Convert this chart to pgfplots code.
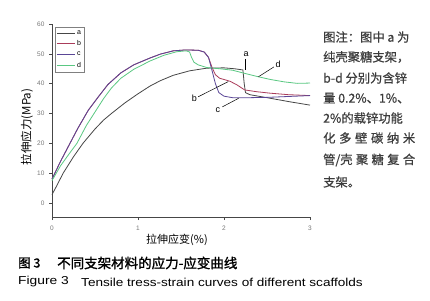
\documentclass[border=0pt]{standalone}
\usepackage{pgfplots}
\pgfplotsset{compat=1.18}
\usepackage{fontspec}
\setmainfont{Liberation Sans}
\newfontfamily\cjk{Noto Sans CJK SC}
\newfontfamily\cjkb[FakeBold=1.5]{Noto Sans CJK SC}
\newfontfamily\cjkn[FakeBold=0.6]{Noto Sans CJK SC}
\definecolor{ca}{RGB}{70,70,70}
\definecolor{cb}{RGB}{170,60,90}
\definecolor{cc}{RGB}{90,70,150}
\definecolor{cd}{RGB}{90,200,130}
\definecolor{tk}{RGB}{120,120,120}
\definecolor{nt}{RGB}{60,60,60}
\begin{document}
\begin{tikzpicture}[x=1pt,y=1pt]
\path[use as bounding box, fill=white] (0,0) rectangle (430,300);
\begin{axis}[
  at={(52pt,83pt)}, anchor=south west, scale only axis,
  width=258pt, height=193pt,
  xmin=0, xmax=3, ymin=-4.7, ymax=60,
  axis x line*=bottom, axis y line*=left,
  axis line style={color=ca, line width=0.7pt},
  xtick={0,1,2,3}, ytick={0,10,20,30,40,50,60},
  tick style={color=ca, line width=0.6pt},
  major tick length=3pt, tick align=outside,
  ticklabel style={color=tk, font=\fontsize{6.5}{7}\selectfont},
  /pgf/number format/assume math mode=true,
  yticklabel style={xshift=-1pt},
  xticklabel style={yshift=-2pt},
  legend style={at={(0.0116,0.984)}, anchor=north west, draw=gray, line width=0.5pt,
    font=\fontsize{7}{7}\selectfont, inner sep=1.2pt, row sep=0.8pt, cells={anchor=west}},
  legend image code/.code={\draw[#1] (0pt,0pt)--(18pt,0pt);},
  every axis plot/.append style={line width=0.8pt},
  clip=false,
]
\addplot[ca] coordinates {
(0,2.8)(0.05,5.5)(0.13,10)(0.25,15.5)(0.36,20)(0.5,24.8)(0.6,27.8)(0.7,30.2)
(0.85,33.6)(1.0,36.6)(1.14,39.2)(1.26,41)(1.41,42.8)(1.6,44.3)(1.8,45.2)(2.0,45.3)
(2.12,45)(2.22,44.6)(2.235,40)(2.25,37)(2.3,36.3)(2.5,35.3)(2.75,34)(3.0,32.8)};
\addlegendentry{a}
\addplot[cb] coordinates {
(0,8)(0.05,11)(0.1,14)(0.2,19.5)(0.3,25)(0.42,31)(0.55,36)(0.65,39.7)(0.8,43.6)
(0.95,46.3)(1.14,48.6)(1.26,49.9)(1.41,51)(1.55,51.3)(1.7,51.2)(1.77,50.6)(1.82,48.8)
(1.86,45.5)(1.9,43)(1.95,41.8)(2.0,41.4)(2.07,40.8)(2.15,39.6)(2.24,37.9)(2.38,37.3)
(2.54,36.8)(2.75,36.3)(3.0,36)};
\addlegendentry{b}
\addplot[cc] coordinates {
(0,8)(0.05,11)(0.1,14)(0.2,19.5)(0.3,25)(0.42,31)(0.55,36)(0.65,39.7)(0.8,43.6)
(0.95,46.3)(1.14,48.6)(1.26,49.9)(1.41,51)(1.55,51.3)(1.7,51.2)(1.77,50.6)(1.82,48.8)
(1.86,44.5)(1.9,40)(1.94,37)(2.0,35.8)(2.1,35.3)(2.3,35.3)(2.5,35.4)(2.75,35.7)(3.0,36)};
\addlegendentry{c}
\addplot[cd] coordinates {
(0,7.5)(0.05,10)(0.1,12.5)(0.2,16.5)(0.29,20)(0.4,26)(0.5,30.5)(0.6,35)(0.69,38.5)
(0.8,41.8)(0.95,44.8)(1.14,47.6)(1.3,49.5)(1.45,50.7)(1.56,51.0)(1.6,50.6)(1.62,49)
(1.65,47.2)(1.7,46.3)(1.8,45.4)(1.95,45)(2.1,44.5)(2.22,43.6)(2.4,42.3)(2.54,41.4)
(2.7,40.6)(2.85,40.1)(3.0,40.2)};
\addlegendentry{d}
% pointer labels
\draw[black, line width=0.5pt] (axis cs:2.244,48.3) -- (axis cs:2.244,44.6);
\node[font=\fontsize{9}{9}\selectfont, inner sep=0pt] at (axis cs:2.256,50.0) {a};
\draw[black, line width=0.5pt] (axis cs:2.58,45.6) -- (axis cs:2.40,42.3);
\node[font=\fontsize{9}{9}\selectfont, inner sep=0pt] at (axis cs:2.63,46.6) {d};
\draw[black, line width=0.5pt] (axis cs:1.70,35.6) -- (axis cs:2.05,40.7);
\node[font=\fontsize{9}{9}\selectfont, inner sep=0pt] at (axis cs:1.655,35.0) {b};
\draw[black, line width=0.5pt] (axis cs:1.98,32.2) -- (axis cs:2.17,35.1);
\node[font=\fontsize{9}{9}\selectfont, inner sep=0pt] at (axis cs:1.93,31.2) {c};
\end{axis}
% axis labels
\node[rotate=90, font=\fontsize{11.5}{12}\selectfont] at (27,173) {\cjk 拉伸应力(MPa)};
\node[font=\fontsize{11}{12}\selectfont] at (177,60) {\cjk 拉伸应变(\%)};
% captions
\node[anchor=west, inner sep=0pt, font=\fontsize{12.5}{13}\selectfont] at (18,37) {\cjkb 图 3};
\node[anchor=west, inner sep=0pt, font=\fontsize{13.5}{14}\selectfont] at (57,37) {\cjkb 不同支架材料的应力-应变曲线};
\node[anchor=west, inner sep=0pt, font=\fontsize{11.5}{12}\selectfont] at (18,18) {\scalebox{1.2}[1]{Figure 3}};
\node[anchor=west, inner sep=0pt, font=\fontsize{11.5}{12}\selectfont] at (81,18) {\scalebox{1.18}[1]{Tensile tress-strain curves of different scaffolds}};
% note
\begin{scope}[every node/.style={anchor=west, inner sep=0pt, text=nt, font=\fontsize{12.3}{13}\selectfont\cjkn}]
\node at (323,263) {\makebox[92pt][l]{图注：图中 a 为}};
\node at (323,243) {\makebox[92pt][l]{纯壳聚糖支架，}};
\node at (323,222) {\makebox[92pt][l]{b-d 分别为含锌}};
\node at (323,202) {\makebox[92pt][l]{量 0.2\%、1\%、}};
\node at (323,182) {\makebox[92pt][l]{2\%的载锌功能}};
\node at (323,162) {\makebox[92pt][l]{化\hfill 多\hfill 壁\hfill 碳\hfill 纳\hfill 米}};
\node at (323,140) {\makebox[92pt][l]{管/壳\hfill 聚\hfill 糖\hfill 复\hfill 合}};
\node at (323,118) {\makebox[92pt][l]{支架。}};
\end{scope}
\end{tikzpicture}
\end{document}
